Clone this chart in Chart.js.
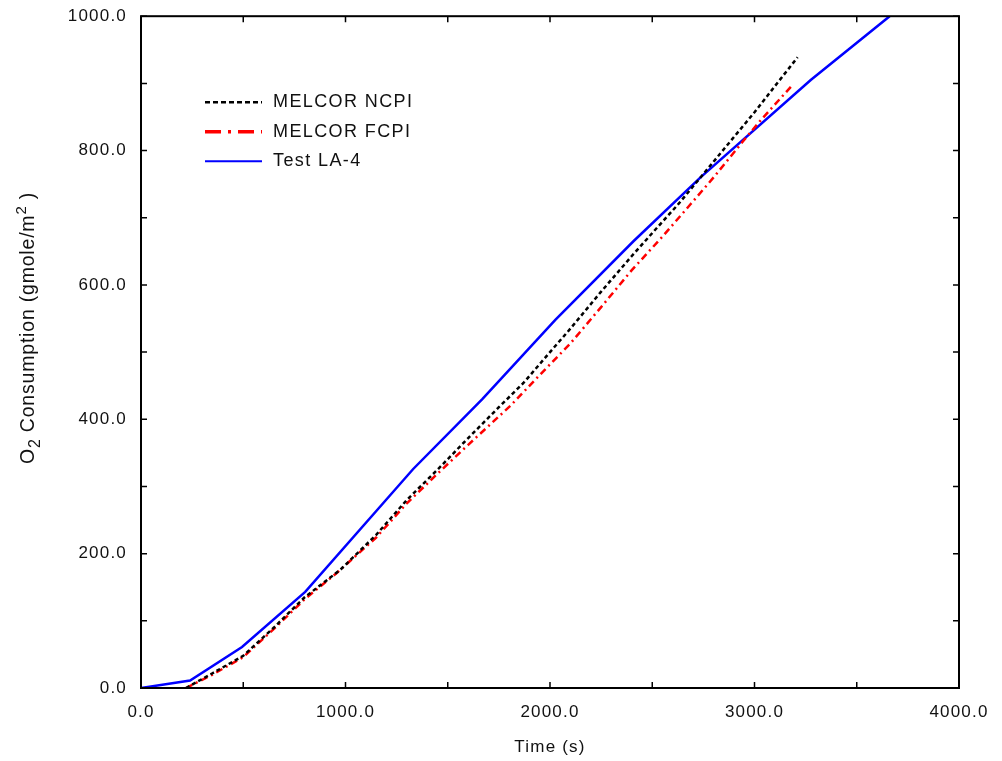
<!DOCTYPE html>
<html>
<head>
<meta charset="utf-8">
<script src="https://cdn.jsdelivr.net/npm/chart.js@4.4.1/dist/chart.umd.min.js"></script>
<style>
  html, body { margin: 0; padding: 0; background: #fff; }
  #wrap { width: 1002px; height: 761px; }
</style>
</head>
<body>
<div id="wrap"><canvas id="o2Chart" width="1002" height="761"></canvas></div>
<script>
// --- data ---
const ncpiTime = [220, 350, 500, 650, 800, 975, 1150, 1300, 1450, 1600, 1750, 1870, 2000, 2100, 2250, 2400, 2520, 2624, 2736, 2850, 3000, 3100, 3211];
const ncpiO2   = [0, 22, 48, 90, 135, 176, 228, 280, 325, 372, 418, 454, 500, 535, 590, 643, 684, 719, 760, 802, 857, 896, 939];

const fcpiTime = [220, 350, 500, 650, 800, 960, 1150, 1300, 1450, 1600, 1806, 1950, 2100, 2250, 2400, 2550, 2687, 2800, 2947, 3030, 3187];
const fcpiO2   = [0, 20, 46, 88, 132, 172, 224, 275, 319, 362, 420, 466, 513, 567, 622, 672, 720, 760, 815, 845, 898];

const testTime = [0, 240, 494, 803, 1331, 1669, 2026, 2408, 2736, 3275, 3661];
const testO2   = [0, 11, 61, 143, 326, 430, 548, 665, 760, 905, 1000];

const seriesNames = ['MELCOR NCPI', 'MELCOR FCPI', 'Test LA-4'];
const xTitle = 'Time (s)';
// y title pieces: [text, size, baseline shift]
const yTitleParts = [['O', 19.5, 0], ['2', 16, 6], [' Consumption (gmole/m', 19.5, 0], ['2', 15, -8], [' )', 19.5, 0]];

const FONT = 'Arial, "Liberation Sans", Helvetica, sans-serif';

const toXY = (xs, ys) => xs.map((x, i) => ({ x, y: ys[i] }));

// wider lettering like the original
const spacingPlugin = {
  id: 'spacing',
  beforeDraw(chart) { chart.ctx.letterSpacing = '1.2px'; }
};

// frame, inward ticks on all four sides, legend and y title
const framePlugin = {
  id: 'frame',
  afterDraw(chart) {
    const { ctx, chartArea: a, scales: { x, y } } = chart;
    ctx.save();
    ctx.strokeStyle = '#000';
    ctx.lineWidth = 2;
    ctx.strokeRect(a.left, a.top, a.right - a.left, a.bottom - a.top);

    ctx.lineWidth = 1.5;
    const tl = 6;
    ctx.beginPath();
    x.ticks.forEach(t => {
      const px = x.getPixelForValue(t.value);
      ctx.moveTo(px, a.bottom); ctx.lineTo(px, a.bottom - tl);
      ctx.moveTo(px, a.top); ctx.lineTo(px, a.top + tl);
    });
    y.ticks.forEach(t => {
      const py = y.getPixelForValue(t.value);
      ctx.moveTo(a.left, py); ctx.lineTo(a.left + tl, py);
      ctx.moveTo(a.right, py); ctx.lineTo(a.right - tl, py);
    });
    ctx.stroke();

    // legend
    const lx = a.left + 64, ly = a.top + 86, row = 29.5;
    chart.data.datasets.forEach((ds, i) => {
      const yy = ly + i * row;
      ctx.beginPath();
      ctx.strokeStyle = ds.borderColor;
      ctx.lineWidth = ds.legendWidth;
      ctx.setLineDash(ds.legendDash);
      ctx.moveTo(lx, yy);
      ctx.lineTo(lx + 57, yy);
      ctx.stroke();
      ctx.setLineDash([]);
      ctx.fillStyle = '#111';
      ctx.font = '18px ' + FONT;
      ctx.letterSpacing = '1.4px';
      ctx.textBaseline = 'middle';
      ctx.textAlign = 'left';
      ctx.fillText(ds.label, lx + 68, yy);
    });

    // y axis title, drawn piecewise for the sub/superscript
    ctx.letterSpacing = '0.8px';
    ctx.fillStyle = '#111';
    ctx.textAlign = 'left';
    ctx.textBaseline = 'alphabetic';
    let total = 0;
    yTitleParts.forEach(([t, s]) => { ctx.font = s + 'px ' + FONT; total += ctx.measureText(t).width; });
    ctx.translate(34, 328);
    ctx.rotate(-Math.PI / 2);
    let cx = -total / 2;
    yTitleParts.forEach(([t, s, dy]) => {
      ctx.font = s + 'px ' + FONT;
      ctx.fillText(t, cx, dy);
      cx += ctx.measureText(t).width;
    });
    ctx.restore();
  }
};

new Chart(document.getElementById('o2Chart'), {
  type: 'scatter',
  data: {
    datasets: [
      {
        label: seriesNames[0],
        data: toXY(ncpiTime, ncpiO2),
        showLine: true,
        borderColor: '#000000',
        borderWidth: 2.5,
        borderDash: [4, 3],
        pointRadius: 0,
        legendDash: [5, 3],
        legendWidth: 2.5
      },
      {
        label: seriesNames[1],
        data: toXY(fcpiTime, fcpiO2),
        showLine: true,
        borderColor: '#ff0000',
        borderWidth: 2.5,
        borderDash: [7, 4, 2, 4],
        pointRadius: 0,
        legendDash: [16, 7, 3, 7],
        legendWidth: 3.5
      },
      {
        label: seriesNames[2],
        data: toXY(testTime, testO2),
        showLine: true,
        borderColor: '#0000ff',
        borderWidth: 2.5,
        pointRadius: 0,
        legendDash: [],
        legendWidth: 2
      }
    ]
  },
  options: {
    responsive: false,
    animation: false,
    layout: { padding: { left: 0, right: 43, top: 8, bottom: 0 } },
    plugins: { legend: { display: false }, tooltip: { enabled: false } },
    scales: {
      x: {
        type: 'linear',
        min: 0, max: 4000,
        afterFit: s => { s.height = 73; },
        grid: { display: false },
        border: { display: false },
        ticks: {
          stepSize: 500,
          autoSkip: false,
          maxRotation: 0,
          padding: 6,
          color: '#111',
          font: { family: FONT, size: 17 },
          callback: v => (v % 1000 === 0 ? v.toFixed(1) : '')
        },
        title: {
          display: true,
          text: xTitle,
          color: '#111',
          font: { family: FONT, size: 17 },
          padding: { top: 0, bottom: 3 }
        }
      },
      y: {
        type: 'linear',
        min: 0, max: 1000,
        afterFit: s => { s.width = 141; },
        grid: { display: false },
        border: { display: false },
        ticks: {
          stepSize: 100,
          autoSkip: false,
          padding: 6,
          color: '#111',
          font: { family: FONT, size: 17 },
          callback: v => (v % 200 === 0 ? v.toFixed(1) : '')
        }
      }
    }
  },
  plugins: [spacingPlugin, framePlugin]
});
</script>
</body>
</html>
